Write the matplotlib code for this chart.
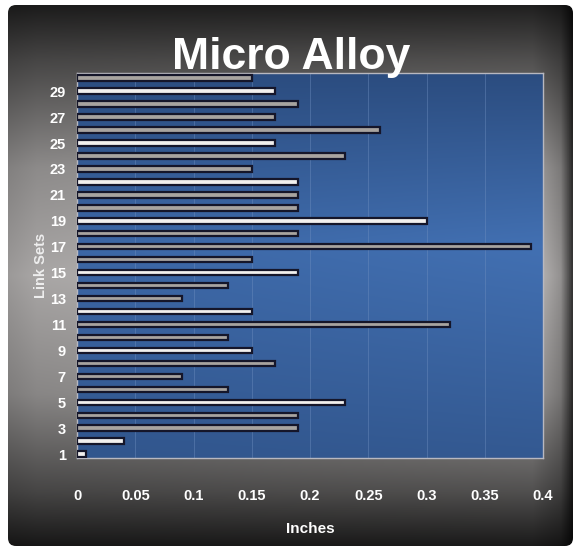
import matplotlib.pyplot as plt
import matplotlib
import numpy as np
from matplotlib.patches import FancyBboxPatch

matplotlib.rcParams['font.family'] = ['Liberation Sans Narrow', 'Liberation Sans', 'DejaVu Sans']

# link sets 1..30 and their lengths in inches
link_sets = list(range(1, 31))
inches = [0.008, 0.04, 0.19, 0.19, 0.23, 0.13, 0.09, 0.17, 0.15, 0.13,
          0.32, 0.15, 0.09, 0.13, 0.19, 0.15, 0.39, 0.19, 0.30, 0.19,
          0.19, 0.19, 0.15, 0.23, 0.17, 0.26, 0.17, 0.19, 0.17, 0.15]
# which bars look bright (white) in the picture
bright = [1, 2, 5, 9, 12, 15, 19, 22, 25, 29]
ytick_vals = list(range(1, 31, 2))
xtick_vals = [0, 0.05, 0.1, 0.15, 0.2, 0.25, 0.3, 0.35, 0.4]
xtick_labels = ['0', '0.05', '0.1', '0.15', '0.2', '0.25', '0.3', '0.35', '0.4']

W, H = 577, 548
fig = plt.figure(figsize=(W/100, H/100), dpi=100)
fig.patch.set_facecolor('white')

# dark frame with gray gradient
bg = fig.add_axes([0, 0, 1, 1])
bg.set_xlim(0, W)
bg.set_ylim(H, 0)
bg.axis('off')
yy = np.linspace(0, 1, 300)[:, None]
xx = np.linspace(0, 1, 300)[None, :]
vert = np.interp(yy, [0, 0.1, 0.3, 0.5, 0.72, 0.9, 1.0],
                 [0.12, 0.3, 0.6, 0.72, 0.58, 0.3, 0.1])
horiz = np.interp(xx, [0, 0.05, 0.5, 0.93, 0.98, 1.0],
                  [0.85, 0.92, 1.0, 1.06, 0.8, 0.3])
lum = np.clip(vert * horiz, 0, 1)
img = np.dstack([lum, lum * 0.985, lum * 0.98])
im = bg.imshow(img, extent=[8, 573, 546, 5], aspect='auto', zorder=1)
frame = FancyBboxPatch((8, 5), 565, 541, boxstyle='round,pad=0,rounding_size=8',
                       transform=bg.transData, facecolor='none', edgecolor='none')
bg.add_patch(frame)
im.set_clip_path(frame)

fig.text(0.505, 0.875, 'Micro Alloy', color='white', fontsize=32, fontweight='bold',
         family=['Liberation Sans', 'DejaVu Sans'], ha='center', va='baseline')

ax = fig.add_axes([77/W, 1-458/H, 466/W, 385/H])
ax.set_xlim(0, 0.4)
ax.set_ylim(0.7, 30.4)

# blue plot area gradient
by = np.linspace(0, 1, 200)[:, None]
bx = np.linspace(0, 1, 200)[None, :]
t = np.interp(by, [0, 0.45, 1.0], [0.0, 1.0, 0.35]) * np.interp(bx, [0, 1], [0.75, 1.0])
top = np.array([0.17, 0.30, 0.50])
mid = np.array([0.26, 0.44, 0.70])
blue = top + (mid - top) * t[..., None]
ax.imshow(blue, extent=[0, 0.4, 0.7, 30.4], origin='upper', aspect='auto', zorder=0)
for s in ax.spines.values():
    s.set_color('#b8b8c0')
    s.set_linewidth(1)

for x in xtick_vals[1:-1]:
    ax.axvline(x, color='#6f8fc0', linewidth=0.6, alpha=0.5, zorder=1)

colors = ['#f2f0ee' if n in bright else '#a8a4a0' for n in link_sets]
ax.barh(link_sets, inches, height=0.42, color=colors, edgecolor='#15162a',
        linewidth=1.6, zorder=3)

ax.set_yticks(ytick_vals)
ax.set_yticklabels([str(v) for v in ytick_vals])
ax.set_xticks(xtick_vals)
ax.set_xticklabels(xtick_labels)
ax.tick_params(length=0, colors='white', labelsize=10.5, pad=8)
for lab in ax.get_xticklabels() + ax.get_yticklabels():
    lab.set_fontweight('bold')
ax.tick_params(axis='x', pad=22)
ax.set_xlabel('Inches', color='white', fontsize=11, fontweight='bold', labelpad=14)
ax.set_ylabel('Link Sets', color='#eeeeee', fontsize=10.5, fontweight='bold', labelpad=1)

fig.savefig('out.png', dpi=100)
